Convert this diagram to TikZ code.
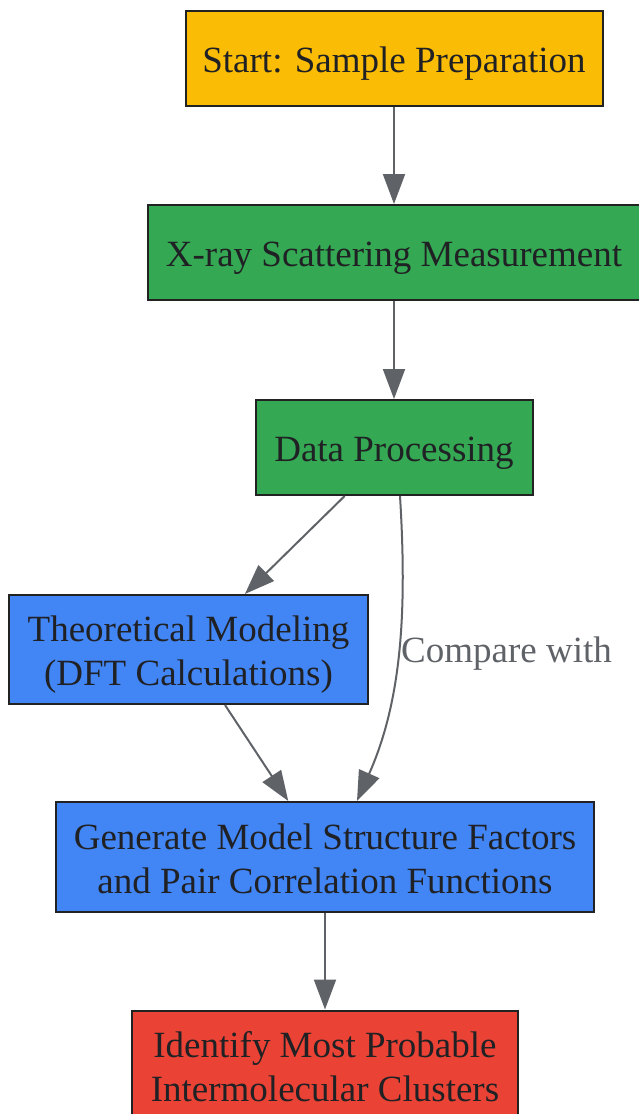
\documentclass[tikz,border=0pt]{standalone}
\usepackage{fontspec}
\setmainfont{Liberation Serif}
\usetikzlibrary{arrows.meta}
\definecolor{cyellow}{HTML}{FBBC05}
\definecolor{cgreen}{HTML}{34A853}
\definecolor{cblue}{HTML}{4285F4}
\definecolor{cred}{HTML}{EA4335}
\definecolor{cedge}{HTML}{5F6368}
\definecolor{ctext}{HTML}{202124}
\definecolor{cborder}{HTML}{222222}
% first baseline placed #1 below the node centre
\newcommand{\mylines}[2]{\raisebox{-#1}[0pt][0pt]{\begin{tabular}[t]{@{}c@{}}#2\end{tabular}}}
\begin{document}
\begin{tikzpicture}[x=1pt,y=-1pt,
  box/.style={draw=cborder, line width=2pt, rectangle, align=center, text=ctext,
    font=\fontsize{37}{44}\selectfont, inner sep=0pt},
  conn/.style={draw=cedge, line width=2pt, -{Triangle[length=30pt,width=22pt]}},
  lbl/.style={text=cedge, font=\fontsize{37}{44}\selectfont, inner sep=0pt}]
\useasboundingbox (0,0) rectangle (639,1114);
\node[box, fill=cyellow, minimum width=417pt, minimum height=95pt] (start) at (394,58.5) {\mylines{14pt}{Start: Sample Preparation}};
\node[box, fill=cgreen, minimum width=492pt, minimum height=95pt] (xray) at (394,252.5) {\mylines{14pt}{X-ray Scattering Measurement}};
\node[box, fill=cgreen, minimum width=277pt, minimum height=95pt] (data) at (394,447.5) {\mylines{14pt}{Data Processing}};
\node[box, fill=cblue, minimum width=359pt, minimum height=109pt] (theo) at (188.5,649.5) {\mylines{-8pt}{Theoretical Modeling\\(DFT Calculations)}};
\node[box, fill=cblue, minimum width=538pt, minimum height=110pt] (gen) at (325,857) {\mylines{-8pt}{Generate Model Structure Factors\\and Pair Correlation Functions}};
\node[box, fill=cred, minimum width=386pt, minimum height=110pt] (ident) at (325,1065.5) {\mylines{-8pt}{Identify Most Probable\\Intermolecular Clusters}};
\draw[conn] (start) -- (xray);
\draw[conn] (xray) -- (data);
\draw[conn] (data) -- (theo);
\draw[conn] (theo) -- (gen);
\draw[conn] ([xshift=6pt]data.south) .. controls (407,610) and (402,700) .. ([xshift=32pt]gen.north);
\node[lbl, anchor=west] (cmp) at (401,654) {Compare with};
\draw[conn] (gen) -- (ident);
\end{tikzpicture}
\end{document}
